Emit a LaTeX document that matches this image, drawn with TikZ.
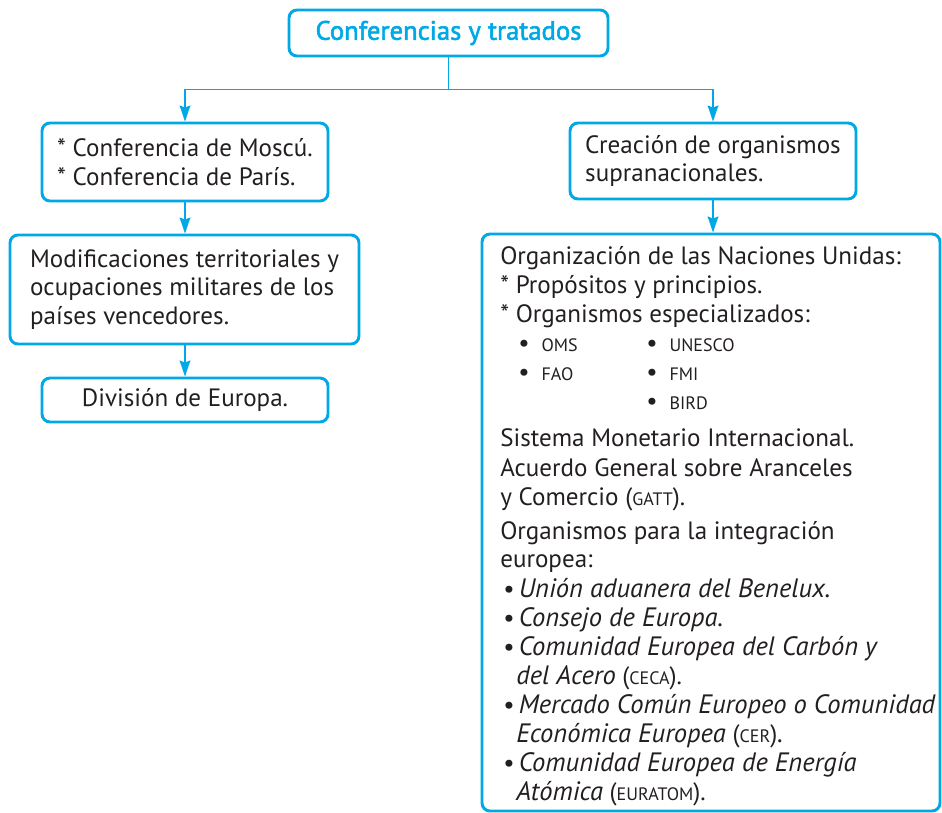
\documentclass[tikz,border=0pt]{standalone}
\usepackage{fontspec}
\setmainfont{PT Sans}[ItalicFeatures={Scale=1.06}]
\newfontfamily\titulofont[FakeBold=2]{PT Sans}
\usetikzlibrary{arrows.meta}
\definecolor{my_cyan}{HTML}{00A9E6}
\definecolor{my_text}{HTML}{231F20}
\newcommand{\sigla}[1]{{\fontsize{13.5}{16}\selectfont #1}}
\newcommand{\cuerpo}{\fontsize{18.8}{21.5}\selectfont}

\begin{document}
\begin{tikzpicture}[
    x=0.75pt, y=-0.75pt,
    caja/.style={draw=my_cyan, line width=2.2pt, rounded corners=6pt,
        text=my_text, font=\cuerpo, inner ysep=0pt, align=left},
    linea/.style={draw=my_cyan, line width=1.3pt},
    flecha/.style={linea, -{Stealth[length=12pt, width=8pt, inset=1.5pt]}},
    txt/.style={anchor=base west, inner sep=0pt, text=my_text, font=\cuerpo}
]
\useasboundingbox (0,0) rectangle (942,813);

% ---------------------------------------------------------------
%  Coordinates are in pixels of the 942 x 813 page (y downwards),
%  1 px = 0.75pt, so the node sizes below are px * 0.75
% ---------------------------------------------------------------

% ---- Title ----
\node[caja, minimum width=239.25pt, minimum height=34.5pt, text=my_cyan,
      font=\titulofont\fontsize{20}{22}\selectfont]
    (titulo) at (448.5,33) {Conferencias y tratados};

% ---- Left column ----
\node[caja, minimum width=214.5pt, minimum height=58.5pt]
    (conf) at (185,162) {* Conferencia de Moscú.\\* Conferencia de París.};

\node[caja, minimum width=261.75pt, minimum height=81.75pt]
    (modif) at (184.5,289.5) {Modificaciones territoriales y\\ocupaciones militares de los\\países vencedores.};

\node[caja, minimum width=214.5pt, minimum height=33pt]
    (europa) at (185,400) {División de Europa.};

% ---- Right column ----
\node[caja, minimum width=214.5pt, minimum height=57pt]
    (crea) at (713,161) {Creación de organismos\\supranacionales.};

\node[caja, minimum width=343.5pt, minimum height=432.75pt] (org) at (711,522.5) {};

% ---- Contents of the large box ----
\node[txt] (onu)  at (500,264) {Organización de las Naciones Unidas:};
\node[txt] (prop) at (500,293) {* Propósitos y principios.};
\node[txt] (esp)  at (500,322) {* Organismos especializados:};

\node[txt] (b1) at (518,351) {\textbullet\hspace{9pt}\sigla{OMS}};
\node[txt] (b2) at (518,380) {\textbullet\hspace{9pt}\sigla{FAO}};
\node[txt] (b3) at (646,351) {\textbullet\hspace{9pt}\sigla{UNESCO}};
\node[txt] (b4) at (646,380) {\textbullet\hspace{9pt}\sigla{FMI}};
\node[txt] (b5) at (646,409) {\textbullet\hspace{9pt}\sigla{BIRD}};

\node[txt] (smi)   at (500,446) {Sistema Monetario Internacional.};
\node[txt] (gatt1) at (500,476) {Acuerdo General sobre Aranceles};
\node[txt] (gatt2) at (500,505) {y Comercio (\sigla{GATT}).};
\node[txt] (int1)  at (500,539) {Organismos para la integración};
\node[txt] (int2)  at (500,567) {europea:};

\node[txt] (e1)  at (503,597) {\textbullet\,\textit{Unión aduanera del Benelux.}};
\node[txt] (e2)  at (503,626) {\textbullet\,\textit{Consejo de Europa.}};
\node[txt] (e3)  at (503,655) {\textbullet\,\textit{Comunidad Europea del Carbón y}};
\node[txt] (e3b) at (516,684) {\textit{del Acero} (\sigla{CECA}).};
\node[txt] (e4)  at (503,713) {\textbullet\,\textit{Mercado Común Europeo o Comunidad}};
\node[txt] (e4b) at (516,742) {\textit{Económica Europea} (\sigla{CER})\textit{.}};
\node[txt] (e5)  at (503,771) {\textbullet\,\textit{Comunidad Europea de Energía}};
\node[txt] (e5b) at (516,800) {\textit{Atómica} (\sigla{EURATOM}).};

% ---- Connectors ----
\draw[linea] (titulo.south) -- ++(0,32) coordinate (bif);
\draw[flecha] (bif) -| (conf.north);
\draw[flecha] (bif) -| (crea.north);
\draw[flecha] (conf.south) -- (conf.south |- modif.north);
\draw[flecha] (modif.south -| conf.south) -- (conf.south |- europa.north);
\draw[flecha] (crea.south) -- (crea.south |- org.north);

\end{tikzpicture}
\end{document}
